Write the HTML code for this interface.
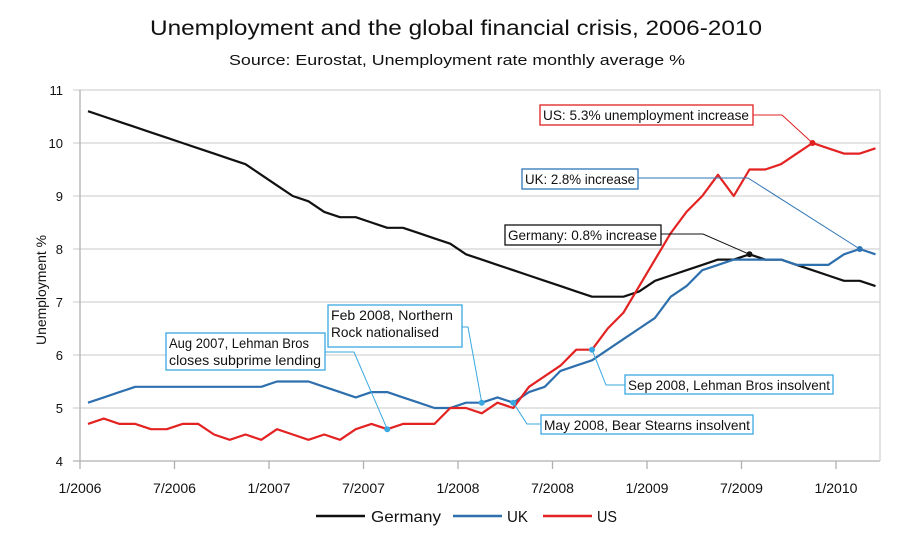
<!DOCTYPE html>
<html><head><meta charset="utf-8"><style>
html,body{margin:0;padding:0;background:#fff;}
svg{display:block;font-family:"Liberation Sans Narrow","Liberation Sans",sans-serif;}
</style></head><body>
<svg id="chart" width="912" height="546" viewBox="0 0 912 546">
<text x="456" y="35" text-anchor="middle" font-size="21" textLength="612" lengthAdjust="spacingAndGlyphs" fill="#111">Unemployment and the global financial crisis, 2006-2010</text>
<text x="457" y="65" text-anchor="middle" font-size="15" textLength="456" lengthAdjust="spacingAndGlyphs" fill="#111">Source: Eurostat, Unemployment rate monthly average %</text>
<text transform="translate(46,290) rotate(-90)" text-anchor="middle" font-size="14" textLength="110" lengthAdjust="spacingAndGlyphs" fill="#111">Unemployment  %</text>
<g id="grid"></g>
<g id="axes"></g>
<g id="series"></g>
<g id="notes"></g>
<g id="legend"></g>
</svg>
<script>
const months = 51;
const germany = [10.6,10.5,10.4,10.3,10.2,10.1,10.0,9.9,9.8,9.7,9.6,9.4,9.2,9.0,8.9,8.7,8.6,8.6,8.5,8.4,8.4,8.3,8.2,8.1,7.9,7.8,7.7,7.6,7.5,7.4,7.3,7.2,7.1,7.1,7.1,7.2,7.4,7.5,7.6,7.7,7.8,7.8,7.9,7.8,7.8,7.7,7.6,7.5,7.4,7.4,7.3];
const uk = [5.1,5.2,5.3,5.4,5.4,5.4,5.4,5.4,5.4,5.4,5.4,5.4,5.5,5.5,5.5,5.4,5.3,5.2,5.3,5.3,5.2,5.1,5.0,5.0,5.1,5.1,5.2,5.1,5.3,5.4,5.7,5.8,5.9,6.1,6.3,6.5,6.7,7.1,7.3,7.6,7.7,7.8,7.8,7.8,7.8,7.7,7.7,7.7,7.9,8.0,7.9];
const us = [4.7,4.8,4.7,4.7,4.6,4.6,4.7,4.7,4.5,4.4,4.5,4.4,4.6,4.5,4.4,4.5,4.4,4.6,4.7,4.6,4.7,4.7,4.7,5.0,5.0,4.9,5.1,5.0,5.4,5.6,5.8,6.1,6.1,6.5,6.8,7.3,7.8,8.3,8.7,9.0,9.4,9.0,9.5,9.5,9.6,9.8,10.0,9.9,9.8,9.8,9.9];
const yTicks = [4,5,6,7,8,9,10,11];
const xTickLabels = ["1/2006","7/2006","1/2007","7/2007","1/2008","7/2008","1/2009","7/2009","1/2010"];
const xTickMonths = [0,6,12,18,24,30,36,42,48];
const notes = [
 {text:["US: 5.3% unemployment increase"], tl:[206], series:"us", idx:46, color:"#e02020", box:[540,105,213,20], path:[[753,115],[782,115]]},
 {text:["UK: 2.8%  increase"], tl:[110], series:"uk", idx:49, color:"#2e75b6", box:[522,169,116,20], path:[[638,178],[748,178]]},
 {text:["Germany: 0.8% increase"], tl:[149], series:"germany", idx:42, color:"#111", box:[505,225,156,20], path:[[661,234],[703,234]]},
 {text:["Feb 2008, Northern","Rock nationalised"], tl:[122,108], series:"uk", idx:25, color:"#3aa8e0", box:[328,305,134,42], path:[[462,327],[468,327]]},
 {text:["Aug 2007, Lehman Bros","closes subprime lending"], tl:[140,152], series:"us", idx:19, color:"#3aa8e0", box:[166,333,159,37], path:[[325,352],[354,352]]},
 {text:["Sep 2008, Lehman Bros insolvent"], tl:[202], series:"us", idx:32, color:"#3aa8e0", box:[625,375,208,19], path:[[625,385],[606,385]]},
 {text:["May 2008, Bear Stearns insolvent"], tl:[206], series:"uk", idx:27, color:"#3aa8e0", box:[541,415,212,19], path:[[541,424],[527,424]]}
];
const NS="http://www.w3.org/2000/svg";
const L=80,R=880,T=90,B=461;
const xS=i=>88+i*15.75;
const xT=m=>80+m*15.75;
const yS=v=>B-(v-4)*(B-T)/7;
function mk(tag,attrs,parent){const e=document.createElementNS(NS,tag);for(const k in attrs)e.setAttribute(k,attrs[k]);parent.appendChild(e);return e;}
const grid=document.getElementById('grid'),axes=document.getElementById('axes'),ser=document.getElementById('series'),nt=document.getElementById('notes'),lg=document.getElementById('legend');
yTicks.forEach(v=>{
 const g=mk('line',{x1:L-7,x2:R,y1:yS(v),y2:yS(v),stroke:v===4?'#b0b0b0':'#d4d4d4','stroke-width':1.3},grid);
 
 
 const t=mk('text',{x:63,y:yS(v)+5,'text-anchor':'end','font-size':13,fill:'#111'},axes);
 t.textContent=v;
 
 
});
mk('line',{x1:L,x2:L,y1:T,y2:B,stroke:'#b0b0b0','stroke-width':1.3},axes);
mk('line',{x1:R,x2:R,y1:T,y2:B,stroke:'#d4d4d4','stroke-width':1.3},axes);
xTickMonths.forEach((m,i)=>{
 mk('line',{x1:xT(m),x2:xT(m),y1:B,y2:B+8,stroke:'#b0b0b0','stroke-width':1.3},axes);
 const t=mk('text',{x:xT(m),y:493,'text-anchor':'middle','font-size':14,textLength:43,lengthAdjust:'spacingAndGlyphs',fill:'#111'},axes);
 t.textContent=xTickLabels[i];
 
 
});
const data={germany:germany,uk:uk,us:us};
const colors={germany:'#111111',uk:'#2e6fad',us:'#e32222'};
['germany','uk','us'].forEach(k=>{
 const p=mk('polyline',{points:data[k].map((v,i)=>xS(i)+','+yS(v)).join(' '),fill:'none',stroke:colors[k],'stroke-width':2.2,'stroke-linejoin':'round'},ser);
 
 
});
notes.forEach(n=>{
 const px=xS(n.idx),py=yS(data[n.series][n.idx]);
 const pts=n.path.concat([[px,py]]).map(a=>a.join(',')).join(' ');
 mk('polyline',{points:pts,fill:'none',stroke:n.color,'stroke-width':1},nt);
 mk('circle',{cx:px,cy:py,r:3,fill:n.color},nt);
 const [bx,by,bw,bh]=n.box;
 const r=mk('rect',{x:bx,y:by,width:bw,height:bh,fill:'#fff',stroke:n.color,'stroke-width':1.3},nt);
 
 
 n.text.forEach((s,j)=>{
  const t=mk('text',{x:bx+3,y:by+15+j*17,'font-size':14,textLength:n.tl[j],lengthAdjust:'spacingAndGlyphs',fill:'#111'},nt);
  t.textContent=s;
  
  
 });
});
[['Germany','germany',316,371,70],['UK','uk',453,507,21],['US','us',543,597,20]].forEach(a=>{
 const l=mk('line',{x1:a[2],x2:a[2]+49,y1:516,y2:516,stroke:colors[a[1]],'stroke-width':2.5},lg);
 
 
 const t=mk('text',{x:a[3],y:522,'font-size':16,textLength:a[4],lengthAdjust:'spacingAndGlyphs',fill:'#111'},lg);
 t.textContent=a[0];
 
 
});
</script>
</body></html>
